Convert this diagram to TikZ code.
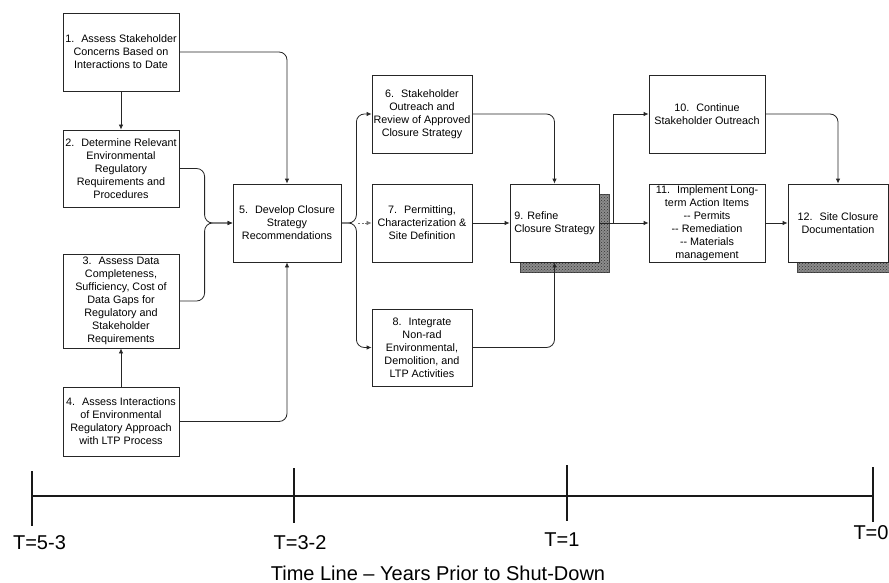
\documentclass[tikz,border=0pt]{standalone}
\usepackage{fontspec}
\setmainfont{Liberation Sans}
\usetikzlibrary{arrows.meta,patterns}
\begin{document}
\begin{tikzpicture}[x=1pt,y=-1pt,
  box/.style={draw=black!85,line width=0.8pt,fill=white,inner sep=0pt,align=center,
    font=\fontsize{10.8}{13}\selectfont},
  arr/.style={-{Latex[length=5pt,width=4.5pt]},line width=0.8pt,black!85},
  rarr/.style={arr,rounded corners=8pt},
  shadowbox/.style={fill=black!45,postaction={pattern=crosshatch dots,pattern color=black!80},draw=black!70,line width=0.5pt},
  tl/.style={line width=2.6pt,black!90},
  tlab/.style={font=\fontsize{20}{24}\selectfont,inner sep=0pt}]
\useasboundingbox (0,0) rectangle (889,583);
% shadows
\fill[shadowbox] (520,194) rectangle (609,272);
\fill[shadowbox] (797,194) rectangle (898,272);
% boxes
\node[box,minimum width=116,minimum height=78] (b1) at (121,52) {1.~ Assess Stakeholder\\Concerns Based on\\Interactions to Date};
\node[box,minimum width=116,minimum height=77] (b2) at (121,168.5) {2.~ Determine Relevant\\Environmental\\Regulatory\\Requirements and\\Procedures};
\node[box,minimum width=116,minimum height=94] (b3) at (121,301) {3.~ Assess Data\\Completeness,\\Sufficiency, Cost of\\Data Gaps for\\Regulatory and\\Stakeholder\\Requirements};
\node[box,minimum width=116,minimum height=69] (b4) at (121,421.5) {4.~ Assess Interactions\\of Environmental\\Regulatory Approach\\with LTP Process};
\node[box,minimum width=108,minimum height=78] (b5) at (287,223) {5.~ Develop Closure\\Strategy\\Recommendations};
\node[box,minimum width=100,minimum height=78] (b6) at (422,114) {6.~ Stakeholder\\Outreach and\\Review of Approved\\Closure Strategy};
\node[box,minimum width=100,minimum height=78] (b7) at (422,223) {7.~ Permitting,\\Characterization \&\\Site Definition};
\node[box,minimum width=100,minimum height=77] (b8) at (422,347.5) {8.~ Integrate\\Non-rad\\Environmental,\\Demolition, and\\LTP Activities};
\node[box,minimum width=89,minimum height=78,align=left] (b9) at (554.5,223) {9. Refine\\Closure Strategy};
\node[box,minimum width=116,minimum height=78] (b10) at (707,114) {10.~ Continue\\Stakeholder Outreach};
\node[box,minimum width=116,minimum height=78] (b11) at (707,223) {11.~ Implement Long-\\term Action Items\\{-}{-} Permits\\{-}{-} Remediation\\{-}{-} Materials\\management};
\node[box,minimum width=100,minimum height=78] (b12) at (838,223) {12.~ Site Closure\\Documentation};
% connectors
\draw[arr] (b1.south) -- (b2.north);
\draw[rarr] (b1.east) -| (b5.north);
\draw[rarr] (b2.east) -| ([xshift=-28pt]b5.west) -- (b5.west);
\draw[rarr] (b3.east) -| ([xshift=-28pt]b5.west) -- (b5.west);
\draw[arr] (b4.north) -- (b3.south);
\draw[rarr] (b4.east) -| (b5.south);
\draw[rarr] (b5.east) -- ([xshift=15pt]b5.east) |- (b6.west);
\draw[rarr] (b5.east) -- ([xshift=15pt]b5.east) |- (b8.west);
\draw[-{Latex[length=5pt,width=4.5pt]},line width=0.6pt,black!55,dash pattern=on 2pt off 1.5pt] ([xshift=17pt]b5.east) -- (b7.west);
\draw[rarr] (b6.east) -| (b9.north);
\draw[arr] (b7.east) -- (b9.west);
\draw[rarr] (b8.east) -| (b9.south);
\draw[arr] (b9.east) -- (b11.west);
\draw[arr] ([xshift=14pt]b9.east) |- (b10.west);
\draw[rarr] (b10.east) -| (b12.north);
\draw[arr] (b11.east) -- (b12.west);
% timeline
\coordinate (t0) at (32,496);
\coordinate (t1) at (294,496);
\coordinate (t2) at (567,496);
\coordinate (t3) at (873,496);
\draw[tl] (t0) -- (t3);
\draw[tl] (32,471) -- (32,526);
\draw[tl] (294,468) -- (294,523);
\draw[tl] (567,465) -- (567,521);
\draw[tl] (873,467) -- (873,522);
\node[tlab] (l0) at (39.5,543) {T=5-3};
\node[tlab] (l1) at (300,543) {T=3-2};
\node[tlab] (l2) at (562,540) {T=1};
\node[tlab] (l3) at (871,533) {T=0};
\node[tlab] (lt) at (438,573) {Time Line -- Years Prior to Shut-Down};
\end{tikzpicture}
\end{document}
